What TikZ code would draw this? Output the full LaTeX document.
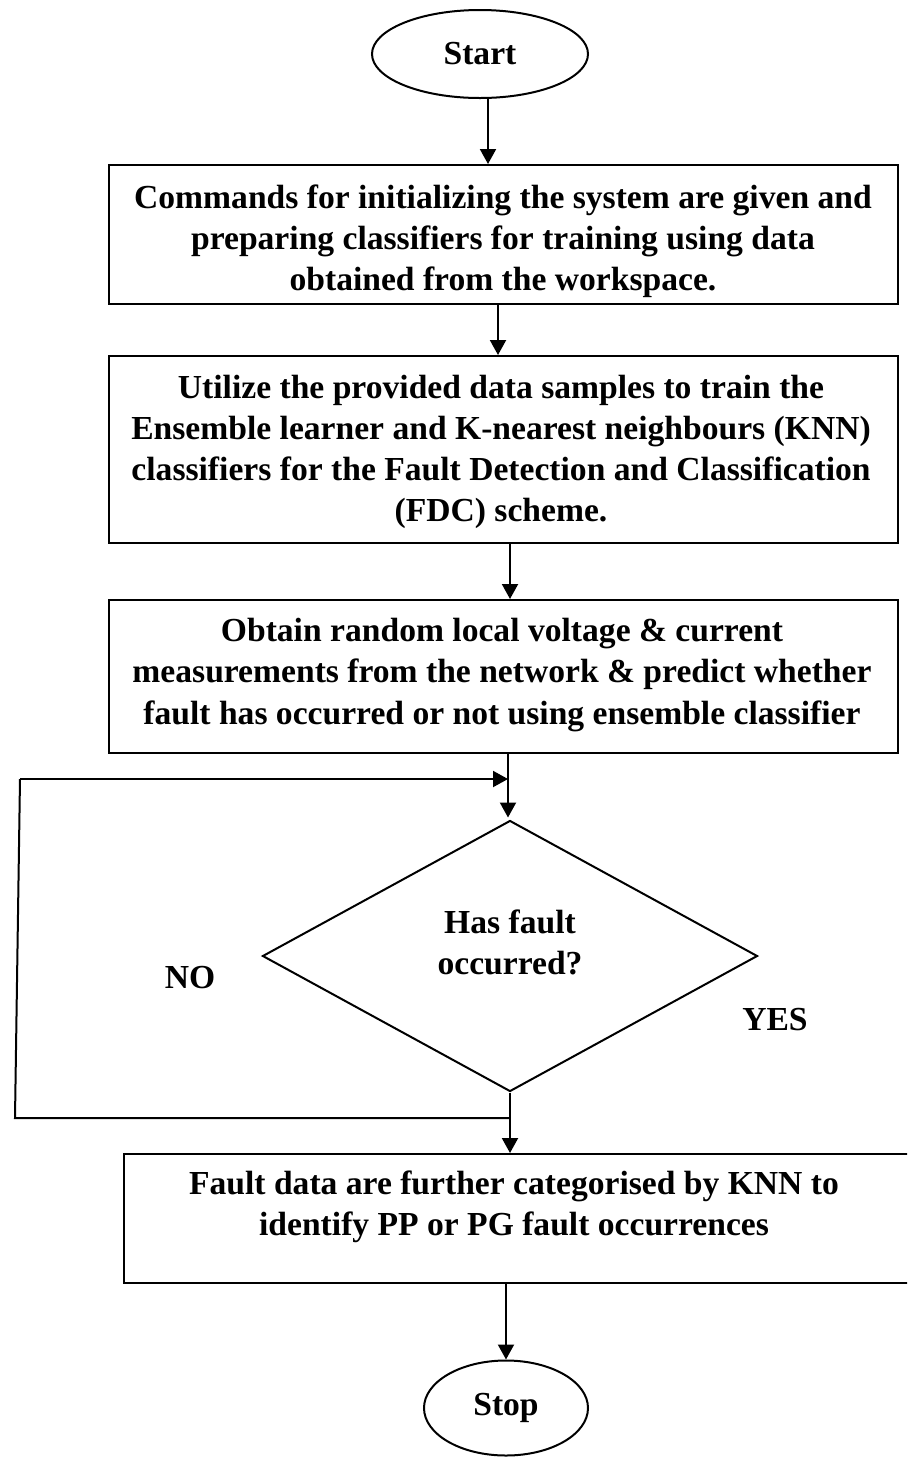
\documentclass[tikz,border=0pt]{standalone}
\usepackage{fontspec}
\setmainfont{Liberation Serif}
\usetikzlibrary{shapes.geometric,arrows.meta,calc}
\begin{document}
\begin{tikzpicture}[x=0.5pt,y=-0.5pt, line width=1pt,
  txt/.style={font=\fontsize{16.8}{20.6}\selectfont\bfseries, align=center, inner sep=0pt},
  boxnode/.style={draw, rectangle, inner sep=0pt},
  term/.style={draw, ellipse, inner sep=0pt, font=\fontsize{16.8}{20.6}\selectfont\bfseries},
  arr/.style={-{Triangle[length=7.5pt,width=8pt]}}]
\useasboundingbox (0,0) rectangle (907,1458);
\clip (0,0) rectangle (907,1458);
\fill[white] (0,0) rectangle (907,1458);

% terminals
\node[term, minimum width=108pt, minimum height=44pt] (start) at (480,54) {Start};
\node[term, minimum width=82pt, minimum height=47.5pt] (stop) at (506,1408) {Stop};

% boxes
\node[boxnode, minimum width=394.5pt, minimum height=69.5pt] (b1) at (503.5,234.5) {};
\node[txt] (t1) at (503,241) {Commands for initializing the system are given and\\preparing classifiers for training using data\\obtained from the workspace.};

\node[boxnode, minimum width=394.5pt, minimum height=93.5pt] (b2) at (503.5,449.5) {};
\node[txt] (t2) at (501,452) {Utilize the provided data samples to train the\\Ensemble learner and K-nearest neighbours (KNN)\\classifiers for the Fault Detection and Classification\\(FDC) scheme.};

\node[boxnode, minimum width=394.5pt, minimum height=76.5pt] (b3) at (503.5,676.5) {};
\node[txt] (t3) at (502,675) {Obtain random local voltage \& current\\measurements from the network \& predict whether\\fault has occurred or not using ensemble classifier};

\node[draw, diamond, aspect=1.83, minimum width=247.5pt, minimum height=135.5pt, inner sep=0pt] (d) at (510,956) {};
\node[txt] (td) at (510,942) {Has fault\\occurred?};

\node[boxnode, minimum width=394pt, minimum height=64.5pt] (b4) at (518,1218.5) {};
\node[txt] (t4) at (514,1207) {Fault data are further categorised by KNN to\\identify PP or PG fault occurrences};

% labels
\node[txt] (no) at (190,978) {NO};
\node[txt] (yes) at (775,1020) {YES};

% connectors
\draw[arr] ([xshift=4pt]start.south) -- ([xshift=4pt]start.south |- b1.north);
\draw[arr] ([xshift=-2.75pt]b1.south) -- ([xshift=-2.75pt]b1.south |- b2.north);
\draw[arr] ([xshift=3.25pt]b2.south) -- ([xshift=3.25pt]b2.south |- b3.north);
\draw[arr] ([xshift=2.25pt]b3.south) -- ([xshift=2.25pt,yshift=1pt]b3.south |- d.north);
\draw[arr] (d.south) -- (d.south |- b4.north);
\draw[arr] (stop.north |- b4.south) -- (stop.north);

% NO loop
\coordinate (lb) at (15,1118);
\coordinate (lt) at (20,779);
\coordinate (j1) at (d.south |- lb);
\coordinate (j2) at ([xshift=2.25pt]b3.south |- lt);
\draw (j1) -- (lb) -- (lt);
\draw[arr] (lt) -- (j2);
\end{tikzpicture}
\end{document}
